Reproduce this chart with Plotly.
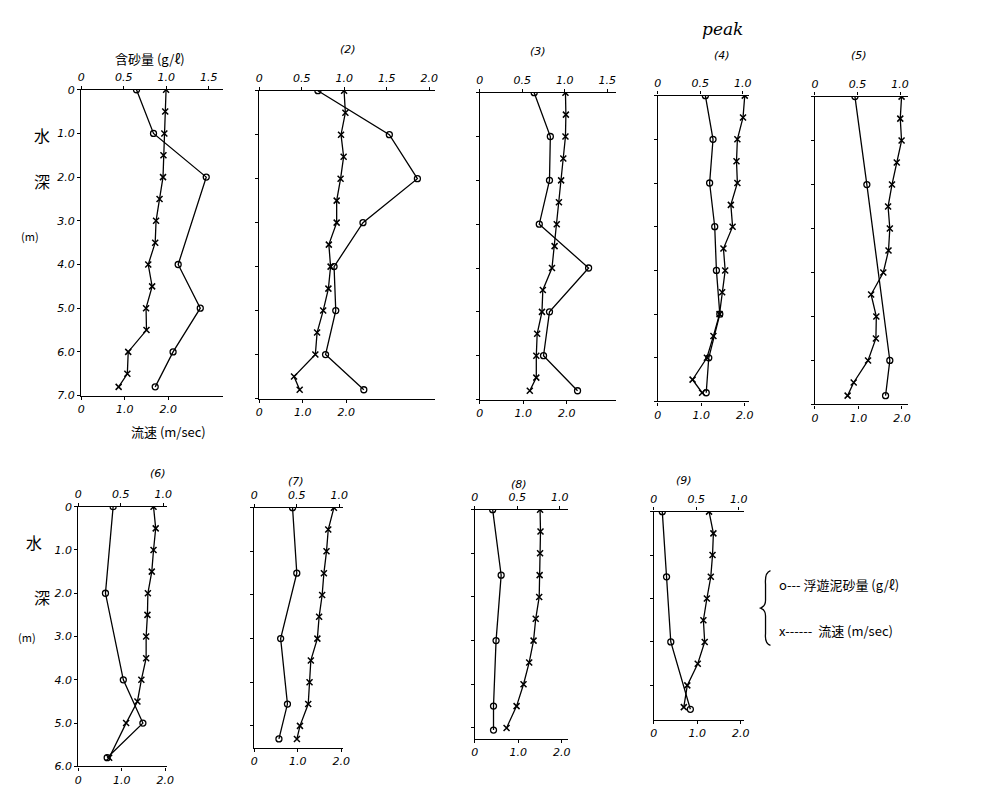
import plotly.graph_objects as go

# ---------------- data (depth in m, sediment in g/l, velocity in m/sec) ----------------
sed_depth_1 = [0, 1.0, 2.0, 4.0, 5.0, 6.0, 6.8]
sed_1 = [0.65, 0.85, 1.47, 1.14, 1.40, 1.08, 0.87]
vel_depth_1 = [0, 0.5, 1.0, 1.5, 2.0, 2.5, 3.0, 3.5, 4.0, 4.5, 5.0, 5.5, 6.0, 6.5, 6.8]
vel_1 = [1.95, 1.93, 1.91, 1.89, 1.88, 1.80, 1.72, 1.70, 1.54, 1.63, 1.49, 1.50, 1.08, 1.06, 0.86]

sed_depth_2 = [0, 1.0, 2.0, 3.0, 4.0, 5.0, 6.0, 6.8]
sed_2 = [0.69, 1.53, 1.86, 1.22, 0.88, 0.90, 0.78, 1.23]
vel_depth_2 = [0, 0.5, 1.0, 1.5, 2.0, 2.5, 3.0, 3.5, 4.0, 4.5, 5.0, 5.5, 6.0, 6.5, 6.8]
vel_2 = [1.95, 1.98, 1.88, 1.94, 1.87, 1.78, 1.78, 1.60, 1.64, 1.59, 1.47, 1.33, 1.29, 0.80, 0.93]

sed_depth_3 = [0, 1.0, 2.0, 3.0, 4.0, 5.0, 6.0, 6.8]
sed_3 = [0.64, 0.83, 0.82, 0.70, 1.28, 0.82, 0.75, 1.15]
vel_depth_3 = [0, 0.5, 1.0, 1.5, 2.0, 2.5, 3.0, 3.5, 4.0, 4.5, 5.0, 5.5, 6.0, 6.5, 6.8]
vel_3 = [1.97, 1.98, 1.97, 1.92, 1.87, 1.82, 1.77, 1.72, 1.66, 1.45, 1.43, 1.32, 1.30, 1.30, 1.15]

sed_depth_4 = [0, 1.0, 2.0, 3.0, 4.0, 5.0, 6.0, 6.8]
sed_4 = [0.56, 0.65, 0.61, 0.67, 0.69, 0.73, 0.60, 0.57]
vel_depth_4 = [0, 0.5, 1.0, 1.5, 2.0, 2.5, 3.0, 3.5, 4.0, 4.5, 5.0, 5.5, 6.0, 6.5, 6.8]
vel_4 = [2.00, 1.96, 1.83, 1.81, 1.83, 1.68, 1.72, 1.51, 1.55, 1.48, 1.42, 1.28, 1.13, 0.80, 1.02]

sed_depth_5 = [0, 2.0, 6.0, 6.8]
sed_5 = [0.47, 0.61, 0.88, 0.83]
vel_depth_5 = [0, 0.5, 1.0, 1.5, 2.0, 2.5, 3.0, 3.5, 4.0, 4.5, 5.0, 5.5, 6.0, 6.5, 6.8]
vel_5 = [1.99, 1.96, 1.99, 1.88, 1.77, 1.68, 1.72, 1.69, 1.57, 1.29, 1.41, 1.40, 1.22, 0.89, 0.75]

sed_depth_6 = [0, 2.0, 4.0, 5.0, 5.8]
sed_6 = [0.41, 0.32, 0.53, 0.76, 0.34]
vel_depth_6 = [0, 0.5, 1.0, 1.5, 2.0, 2.5, 3.0, 3.5, 4.0, 4.5, 5.0, 5.8]
vel_6 = [1.73, 1.78, 1.73, 1.69, 1.60, 1.59, 1.56, 1.56, 1.45, 1.36, 1.10, 0.71]

sed_depth_7 = [0, 1.5, 3.0, 4.5, 5.3]
sed_7 = [0.45, 0.50, 0.31, 0.39, 0.29]
vel_depth_7 = [0, 0.5, 1.0, 1.5, 2.0, 2.5, 3.0, 3.5, 4.0, 4.5, 5.0, 5.3]
vel_7 = [1.83, 1.70, 1.66, 1.60, 1.56, 1.49, 1.45, 1.30, 1.27, 1.24, 1.05, 0.98]

sed_depth_8 = [0, 1.5, 3.0, 4.5, 5.05]
sed_8 = [0.21, 0.31, 0.25, 0.22, 0.22]
vel_depth_8 = [0, 0.5, 1.0, 1.5, 2.0, 2.5, 3.0, 3.5, 4.0, 4.5, 5.0]
vel_8 = [1.50, 1.51, 1.50, 1.49, 1.48, 1.40, 1.35, 1.25, 1.12, 0.96, 0.73]

sed_depth_9 = [0, 1.5, 3.0, 4.55]
sed_9 = [0.10, 0.15, 0.20, 0.43]
vel_depth_9 = [0, 0.5, 1.0, 1.5, 2.0, 2.5, 3.0, 3.5, 4.0, 4.5]
vel_9 = [1.27, 1.37, 1.35, 1.31, 1.22, 1.14, 1.17, 1.01, 0.77, 0.69]

panel_titles = ["", "(2)", "(3)", "(4)", "(5)", "(6)", "(7)", "(8)", "(9)"]
depth_max = [7, 7, 7, 7, 7, 6, 5.5, 5.25, 4.8]
sed_ticks = [[0, 0.5, 1.0, 1.5], [0, 0.5, 1.0, 1.5, 2.0], [0, 0.5, 1.0, 1.5],
             [0, 0.5, 1.0], [0, 0.5, 1.0], [0, 0.5, 1.0], [0, 0.5, 1.0], [0, 0.5, 1.0], [0, 0.5, 1.0]]
vel_ticks = [0, 1.0, 2.0]

sed_depths = [sed_depth_1, sed_depth_2, sed_depth_3, sed_depth_4, sed_depth_5, sed_depth_6, sed_depth_7, sed_depth_8, sed_depth_9]
seds = [sed_1, sed_2, sed_3, sed_4, sed_5, sed_6, sed_7, sed_8, sed_9]
vel_depths = [vel_depth_1, vel_depth_2, vel_depth_3, vel_depth_4, vel_depth_5, vel_depth_6, vel_depth_7, vel_depth_8, vel_depth_9]
vels = [vel_1, vel_2, vel_3, vel_4, vel_5, vel_6, vel_7, vel_8, vel_9]

# ---------------- layout geometry (pixels) ----------------
W, H = 990, 787
boxes = [(70, 213, 77, 388), (250, 428, 78, 391), (473, 611, 80, 392), (653, 745, 83, 394),
         (812, 906, 84, 397), (67, 157, 501, 765), (245, 335, 502, 746), (468, 562, 504, 737),
         (649, 740, 506, 718)]
SED_PX = 86.0   # px per 1 g/l
VEL_PX = 44.0   # px per 1 m/sec

JP = "Noto Sans CJK JP"
numfont = dict(family="DejaVu Sans", size=11, color="black", style="italic")

fig = go.Figure()
layout = dict(width=W, height=H, margin=dict(l=0, r=0, t=0, b=0),
              paper_bgcolor="white", plot_bgcolor="white", showlegend=False)

def fmt(v):
    return "0" if v == 0 else f"{v:.1f}"

for i in range(9):
    n = i + 1
    x0, x1, y0, y1 = boxes[i]
    xd = [x0 / W, x1 / W]
    yd = [1 - y1 / H, 1 - y0 / H]
    wpx = x1 - x0
    xb = "x" if n == 1 else f"x{n}"
    xt = f"x{n + 9}"
    ya = "y" if n == 1 else f"y{n}"
    common = dict(showline=True, linecolor="black", linewidth=1.3, showgrid=False,
                  zeroline=False, ticks="outside", ticklen=3, tickcolor="black", tickwidth=1,
                  tickfont=numfont, mirror=False)
    layout["xaxis" if n == 1 else f"xaxis{n}"] = dict(
        domain=xd, anchor=ya, side="bottom", range=[0, wpx / VEL_PX],
        tickvals=vel_ticks, ticktext=[fmt(v) for v in vel_ticks], **common)
    layout[f"xaxis{n + 9}"] = dict(
        domain=xd, anchor=ya, side="top", overlaying=xb, range=[0, wpx / SED_PX],
        tickvals=sed_ticks[i], ticktext=[fmt(v) for v in sed_ticks[i]], **common)
    yt = [k for k in range(0, int(depth_max[i]) + 1)]
    show_lab = n in (1, 6)
    layout["yaxis" if n == 1 else f"yaxis{n}"] = dict(
        domain=yd, anchor=xb, range=[depth_max[i], 0], tickvals=yt,
        ticktext=[fmt(float(v)) for v in yt], showticklabels=show_lab, **common)

    fig.add_trace(go.Scatter(
        x=vels[i], y=vel_depths[i], xaxis=xb, yaxis=ya, mode="lines+markers",
        line=dict(color="black", width=1.3),
        marker=dict(symbol="x-thin", size=6, line=dict(color="black", width=1.5)),
        name="流速 (m/sec)"))
    fig.add_trace(go.Scatter(
        x=seds[i], y=sed_depths[i], xaxis=xt, yaxis=ya, mode="lines+markers",
        line=dict(color="black", width=1.3),
        marker=dict(symbol="circle-open", size=6, color="black", line=dict(width=1.3)),
        name="浮遊泥砂量 (g/ℓ)"))

fig.update_layout(**layout)

def ann(text, px, py, size=13, xanchor="center", family=JP, italic=False):
    f = dict(family=family, size=size, color="black")
    if italic:
        f["style"] = "italic"
    fig.add_annotation(text=text, x=px / W, y=1 - py / H, xref="paper", yref="paper",
                       showarrow=False, xanchor=xanchor, yanchor="middle", font=f)

# axis titles of panel 1
ann("含砂量 (g/ℓ)", 140, 45, 13)
ann("流速 (m/sec)", 158, 425, 13)
ann("水", 30, 123, 16)
ann("深", 30, 170, 16)
ann("(m)", 18, 226, 11)
# panel 6 depth label
ann("水", 22, 537, 16)
ann("深", 30, 593, 16)
ann("(m)", 15, 633, 11)

# panel titles
title_pos = [None, (340, 36), (532, 38), (718, 42), (857, 42), (148, 467), (287, 475), (513, 478), (680, 474)]
for i, t in enumerate(panel_titles):
    if t:
        ann(t, title_pos[i][0], title_pos[i][1], 11, family="DejaVu Sans", italic=True)
ann("peak", 718, 15, 17, family="DejaVu Serif", italic=True)

# legend (hand-drawn style brace + text)
fig.add_shape(type="path", xref="paper", yref="paper",
              path=(f"M {767/W} {1-566/H} Q {761/W} {1-568/H} {762/W} {1-580/H} "
                    f"L {762/W} {1-596/H} Q {762/W} {1-602/H} {757/W} {1-604/H} "
                    f"Q {762/W} {1-606/H} {762/W} {1-612/H} L {762/W} {1-630/H} "
                    f"Q {761/W} {1-640/H} {767/W} {1-642/H}"),
              line=dict(color="black", width=1.3))
ann("o--- 浮遊泥砂量 (g/ℓ)", 774, 580, 13, xanchor="left")
ann("x------  流速 (m/sec)", 774, 627, 13, xanchor="left")

fig.write_html("out.html")
